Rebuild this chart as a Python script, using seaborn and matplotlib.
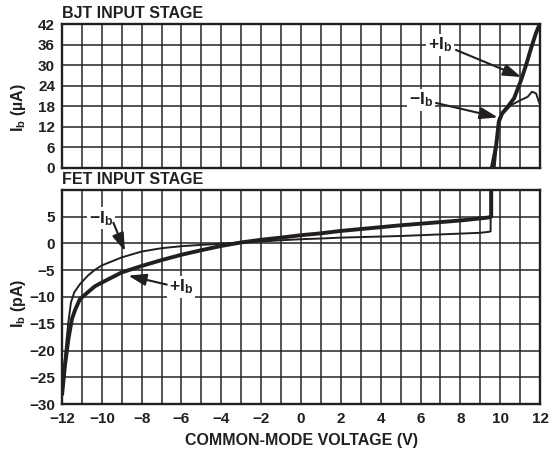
import matplotlib
matplotlib.use("Agg")
import matplotlib.pyplot as plt
import numpy as np
import pandas as pd
import seaborn as sns

# ---- BJT input stage bias current (uA) vs common-mode voltage ----
bjt_pos_v = [9.58, 9.70, 9.80, 9.93, 10.10, 10.38, 10.70, 11.05, 11.30, 11.55, 11.80, 11.98]
bjt_pos_i = [0.0, 3.5, 6.7, 13.5, 16.0, 17.9, 20.4, 25.7, 30.1, 35.0, 39.5, 42.0]
bjt_neg_v = [9.72, 9.80, 9.88, 9.93, 10.00, 10.55, 11.05, 11.38, 11.60, 11.80, 11.97]
bjt_neg_i = [0.0, 5.0, 10.0, 14.5, 15.0, 18.4, 19.9, 20.8, 22.3, 21.8, 18.9]

# ---- FET input stage bias current (pA) vs common-mode voltage ----
fet_pos_v = [-12.0, -11.85, -11.68, -11.5, -11.33, -11.1, -10.7, -10.35, -10.0, -9.0, -8.0,
             -7.0, -6.0, -5.0, -4.0, -3.0, -2.0, -1.0, 0.0, 1.0, 2.0, 3.0, 5.0, 7.0, 8.0,
             9.4, 9.55, 9.55]
fet_pos_i = [-28.4, -22.8, -17.9, -14.1, -12.3, -10.4, -9.1, -8.0, -7.3, -5.4, -4.2,
             -3.1, -2.1, -1.25, -0.45, 0.2, 0.7, 1.1, 1.55, 1.9, 2.35, 2.7, 3.4, 4.0, 4.3,
             4.85, 5.0, 10.0]
fet_neg_v = [-11.95, -11.8, -11.68, -11.55, -11.38, -11.1, -10.7, -10.34, -10.0, -9.0, -8.0,
             -7.0, -6.0, -5.0, -4.0, -3.0, -2.0, -1.0, 0.0, 1.0, 2.0, 3.0, 5.0, 7.0, 9.0,
             9.47, 9.52, 9.52]
fet_neg_i = [-25.5, -19.1, -14.7, -11.0, -9.1, -7.6, -6.0, -4.9, -4.1, -2.6, -1.5,
             -0.88, -0.5, -0.26, -0.05, 0.2, 0.37, 0.6, 0.8, 0.93, 1.1, 1.2, 1.4, 1.7, 2.0,
             2.2, 2.3, 10.0]

x_ticks = list(range(-12, 13))
x_labels = [str(v) if v % 2 == 0 else "" for v in x_ticks]
bjt_ticks = [0, 6, 12, 18, 24, 30, 36, 42]
fet_ticks = [-30, -25, -20, -15, -10, -5, 0, 5, 10]

sns.set_theme(style="white")
plt.rcParams["font.family"] = ["Liberation Sans", "DejaVu Sans"]
plt.rcParams["font.weight"] = "bold"
plt.rcParams["mathtext.fontset"] = "custom"
plt.rcParams["mathtext.rm"] = "Liberation Sans:bold"
plt.rcParams["mathtext.it"] = "Liberation Sans:bold"
plt.rcParams["mathtext.bf"] = "Liberation Sans:bold"

INK = "#231f20"
GRID = "#262626"

fig = plt.figure(figsize=(5.52, 4.5), dpi=100)
ax_top = fig.add_axes([0.1123, 0.6267, 0.866, 0.3193])
ax_bot = fig.add_axes([0.1123, 0.1022, 0.866, 0.4756])


def style_axis(ax, yticks, ylim, show_x):
    ax.set_xlim(-12, 12)
    ax.set_ylim(*ylim)
    ax.set_xticks(x_ticks)
    ax.set_yticks(yticks)
    ax.grid(True, color=GRID, linewidth=1.1)
    ax.set_axisbelow(True)
    for sp in ax.spines.values():
        sp.set_color(INK)
        sp.set_linewidth(1.7)
    ax.tick_params(length=0, pad=5, labelsize=11, colors=INK)
    ax.tick_params(axis="x", pad=6)
    if show_x:
        ax.set_xticklabels([s.replace("-", "−") for s in x_labels], fontweight="bold")
    else:
        ax.set_xticklabels([])
    ax.set_xlabel("")


def curve(ax, v, i, lw):
    df = pd.DataFrame({"v": v, "i": i})
    sns.lineplot(data=df, x="v", y="i", sort=False, estimator=None,
                 color=INK, linewidth=lw, ax=ax, solid_capstyle="butt")


def label(ax, text, xy_text, xy_start, xy_tip):
    ax.text(*xy_text, text, ha="center", va="center", fontsize=12.5,
            fontweight="bold", color=INK, zorder=5,
            bbox=dict(boxstyle="square,pad=0.1", fc="white", ec="none"))
    ax.annotate("", xy=xy_tip, xytext=xy_start, zorder=5,
                arrowprops=dict(arrowstyle="-|>,head_length=0.9,head_width=0.3",
                                color=INK, lw=1.5, shrinkA=0, shrinkB=0))


# BJT panel
curve(ax_top, bjt_pos_v, bjt_pos_i, 2.8)
curve(ax_top, bjt_neg_v, bjt_neg_i, 1.4)
style_axis(ax_top, bjt_ticks, (0, 42), False)
ax_top.set_yticklabels([str(t) for t in bjt_ticks], fontweight="bold")
ax_top.set_ylabel(r"I$_{\mathrm{b}}$ (µA)", fontsize=11.5, fontweight="bold", color=INK)
ax_top.yaxis.set_label_coords(-0.072, 0.42)
ax_top.text(0.0, 1.02, "BJT INPUT STAGE", transform=ax_top.transAxes, ha="left",
            va="bottom", fontsize=11.5, fontweight="bold", color=INK)
label(ax_top, r"+I$_{\mathrm{b}}$", (6.98, 35.95), (7.78, 34.5), (11.05, 26.6))
label(ax_top, r"−I$_{\mathrm{b}}$", (6.03, 19.9), (6.78, 19.0), (9.88, 14.8))

# FET panel
curve(ax_bot, fet_pos_v, fet_pos_i, 2.8)
curve(ax_bot, fet_neg_v, fet_neg_i, 1.4)
style_axis(ax_bot, fet_ticks, (-30, 10), True)
ax_bot.set_yticklabels([("" if t == 10 else str(t).replace("-", "−")) for t in fet_ticks],
                       fontweight="bold")
ax_bot.set_ylabel(r"I$_{\mathrm{b}}$ (pA)", fontsize=11.5, fontweight="bold", color=INK)
ax_bot.yaxis.set_label_coords(-0.072, 0.473)
ax_bot.set_xlabel("COMMON-MODE VOLTAGE (V)", fontsize=11.5, fontweight="bold", color=INK,
                  labelpad=5)
ax_bot.text(0.0, 1.015, "FET INPUT STAGE", transform=ax_bot.transAxes, ha="left",
            va="bottom", fontsize=11.5, fontweight="bold", color=INK)
label(ax_bot, r"−I$_{\mathrm{b}}$", (-10.04, 4.69), (-9.42, 3.89), (-8.84, -1.44))
label(ax_bot, r"+I$_{\mathrm{b}}$", (-6.03, -8.06), (-6.74, -7.68), (-8.67, -6.0))

fig.savefig("out.png", dpi=100)
